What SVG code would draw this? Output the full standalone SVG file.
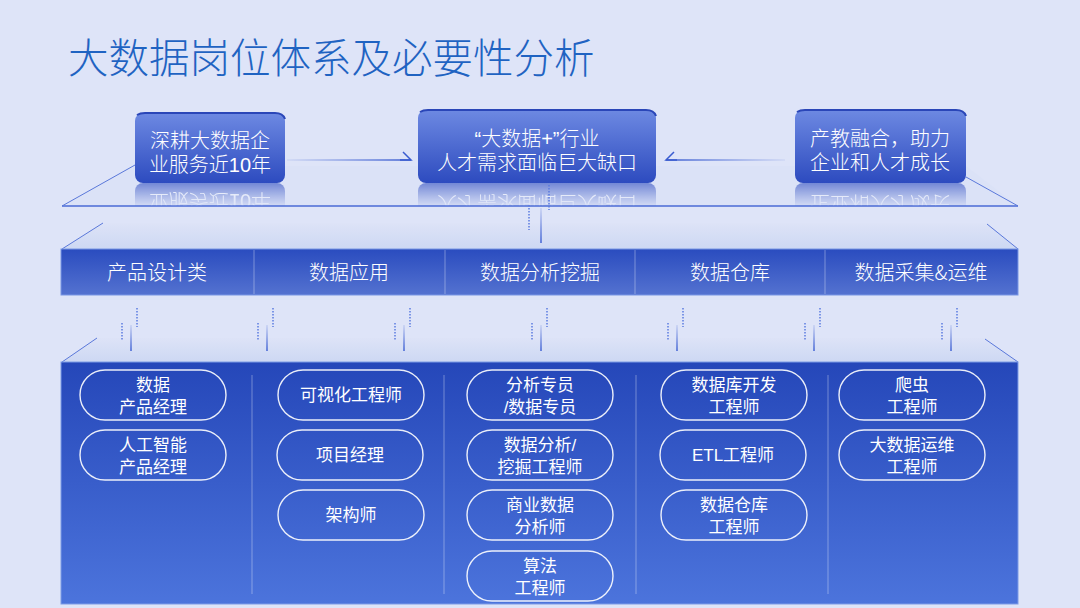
<svg xmlns="http://www.w3.org/2000/svg" width="1080" height="608" viewBox="0 0 1080 608">
<defs>
<linearGradient id="gBox" x1="0" y1="0" x2="0" y2="1"><stop offset="0" stop-color="#6d89e2"/><stop offset="1" stop-color="#2d4bbf"/></linearGradient>
<linearGradient id="gBand" x1="0" y1="0" x2="0" y2="1"><stop offset="0" stop-color="#2a4cbf"/><stop offset="1" stop-color="#5472d0"/></linearGradient>
<linearGradient id="gPanel" x1="0" y1="0" x2="0" y2="1"><stop offset="0" stop-color="#2547b9"/><stop offset="1" stop-color="#4c74dc"/></linearGradient>
<linearGradient id="gTop" x1="0" y1="0" x2="0" y2="1"><stop offset="0" stop-color="#dde3f7"/><stop offset="1" stop-color="#cdd8f3"/></linearGradient>
<linearGradient id="gRefl" x1="0" y1="0" x2="0" y2="1"><stop offset="0" stop-color="#ffffff" stop-opacity="0.6"/><stop offset="1" stop-color="#ffffff" stop-opacity="0.05"/></linearGradient>
<linearGradient id="gLineR" gradientUnits="userSpaceOnUse" x1="287" y1="0" x2="411" y2="0"><stop offset="0" stop-color="#4a6ad6" stop-opacity="0.1"/><stop offset="1" stop-color="#3a5cd0"/></linearGradient>
<linearGradient id="gLineL" gradientUnits="userSpaceOnUse" x1="785" y1="0" x2="666" y2="0"><stop offset="0" stop-color="#4a6ad6" stop-opacity="0.1"/><stop offset="1" stop-color="#3a5cd0"/></linearGradient>
<linearGradient id="gSolid" x1="0" y1="0" x2="0" y2="1"><stop offset="0" stop-color="#4a6ad6" stop-opacity="0.15"/><stop offset="1" stop-color="#4a6ad6"/></linearGradient>
<mask id="mRefl" maskUnits="userSpaceOnUse" x="0" y="183" width="1080" height="24">
<rect x="0" y="183" width="1080" height="23" fill="url(#gRefl)"/>
</mask>
<style>
.bg{fill:#dee4f8}
.title{font-family:"Noto Sans CJK SC","Liberation Sans",sans-serif;font-size:40.5px;font-weight:300;fill:#1f63c2}
.bt{font-family:"Liberation Sans","Noto Sans CJK SC",sans-serif;font-size:20px;font-weight:300;fill:#ffffff;text-anchor:middle}
.ct{font-family:"Noto Sans CJK SC","Liberation Sans",sans-serif;font-size:20px;font-weight:300;fill:#ffffff;text-anchor:middle}
.pt{font-family:"Liberation Sans","Noto Sans CJK SC",sans-serif;font-size:17px;fill:#ffffff;text-anchor:middle}
.pill{fill:none;stroke:#ffffff;stroke-width:1.4;stroke-opacity:0.9}
.edge{stroke:#4a6ad6;stroke-width:1.5;fill:none}
.diag{stroke:#5a78da;stroke-width:1;fill:none}
.div{stroke:#ffffff;stroke-opacity:0.35;stroke-width:1}
.dot{stroke:#5b7be0;stroke-width:1.5;stroke-dasharray:1.5 1.5;fill:none}
.sol{fill:url(#gSolid)}
</style>
</defs>
<rect class="bg" x="0" y="0" width="1080" height="608"/>
<text class="title" x="68" y="73">大数据岗位体系及必要性分析</text>

<!-- planes -->
<g id="planes">
<polygon points="62,206 133,166 966,166 1018,206" fill="#dbe2f7"/>
<line class="edge" x1="62" y1="206" x2="1018" y2="206"/>
<line class="diag" x1="62" y1="206" x2="135" y2="165"/>
<line class="diag" x1="966" y1="177" x2="1018" y2="206"/>
<polygon points="62,249 103,223 987,223 1018,249" fill="url(#gTop)"/>
<line class="diag" x1="62" y1="249" x2="103" y2="223"/>
<line class="diag" x1="987" y1="224" x2="1018" y2="249"/>
<polygon points="62,362 97,338 985,338 1018,362" fill="url(#gTop)"/>
<line class="diag" x1="62" y1="362" x2="97" y2="338"/>
<line class="diag" x1="985" y1="339" x2="1018" y2="362"/>
</g>

<!-- reflections -->
<g id="reflections" mask="url(#mRefl)">
<g transform="translate(0,366) scale(1,-1)">
<rect x="135" y="113" width="150" height="70" rx="8" fill="url(#gBox)"/>
<rect x="418" y="110" width="238" height="73" rx="8" fill="url(#gBox)"/>
<rect x="795" y="110" width="171" height="73" rx="8" fill="url(#gBox)"/>
<text class="bt" x="210" y="172">业服务近10年</text>
<text class="bt" x="537" y="170">人才需求面临巨大缺口</text>
<text class="bt" x="880" y="170">企业和人才成长</text>
</g>
</g>

<!-- connectors -->
<g id="connectors">
<line x1="287" y1="160" x2="411" y2="160" stroke="url(#gLineR)" stroke-width="1.5"/>
<polyline points="403,152 411,160 400,160" fill="none" stroke="#3a5cd0" stroke-width="1.5"/>
<line x1="785" y1="160" x2="666" y2="160" stroke="url(#gLineL)" stroke-width="1.5"/>
<polyline points="674,152 666,160 677,160" fill="none" stroke="#3a5cd0" stroke-width="1.5"/>
<line class="dot" x1="529" y1="205" x2="529" y2="230"/>
<line class="dot" x1="549" y1="185" x2="549" y2="210"/>
<rect class="sol" x="540.2" y="208" width="1.6" height="35"/>
<g>
<line class="dot" x1="122" y1="323" x2="122" y2="340"/><line class="dot" x1="137" y1="308" x2="137" y2="327"/><rect class="sol" x="130.2" y="325" width="1.6" height="26"/>
<line class="dot" x1="258" y1="323" x2="258" y2="340"/><line class="dot" x1="273" y1="308" x2="273" y2="327"/><rect class="sol" x="266.2" y="325" width="1.6" height="26"/>
<line class="dot" x1="395" y1="323" x2="395" y2="340"/><line class="dot" x1="410" y1="308" x2="410" y2="327"/><rect class="sol" x="403.2" y="325" width="1.6" height="26"/>
<line class="dot" x1="532" y1="323" x2="532" y2="340"/><line class="dot" x1="547" y1="308" x2="547" y2="327"/><rect class="sol" x="540.2" y="325" width="1.6" height="26"/>
<line class="dot" x1="668" y1="323" x2="668" y2="340"/><line class="dot" x1="683" y1="308" x2="683" y2="327"/><rect class="sol" x="676.2" y="325" width="1.6" height="26"/>
<line class="dot" x1="805" y1="323" x2="805" y2="340"/><line class="dot" x1="820" y1="308" x2="820" y2="327"/><rect class="sol" x="813.2" y="325" width="1.6" height="26"/>
<line class="dot" x1="942" y1="323" x2="942" y2="340"/><line class="dot" x1="957" y1="308" x2="957" y2="327"/><rect class="sol" x="950.2" y="325" width="1.6" height="26"/>
</g>
</g>

<!-- top boxes -->
<g id="box-experience">
<rect x="135" y="113" width="150" height="70" rx="8" fill="url(#gBox)"/>
<path d="M137,115 Q140,113 145,113 L275,113 Q283,113 285,119" fill="none" stroke="#2a46b8" stroke-width="2"/>
<text class="bt" x="210" y="148">深耕大数据企<tspan x="210" dy="24">业服务近10年</tspan></text>
</g>
<g id="box-demand">
<rect x="418" y="110" width="238" height="73" rx="8" fill="url(#gBox)"/>
<path d="M420,112 Q423,110 428,110 L646,110 Q654,110 656,116" fill="none" stroke="#2a46b8" stroke-width="2"/>
<text class="bt" x="537" y="146">“大数据+”行业<tspan x="537" dy="24">人才需求面临巨大缺口</tspan></text>
</g>
<g id="box-edu">
<rect x="795" y="110" width="171" height="73" rx="8" fill="url(#gBox)"/>
<path d="M797,112 Q800,110 805,110 L956,110 Q964,110 966,116" fill="none" stroke="#2a46b8" stroke-width="2"/>
<text class="bt" x="880" y="146">产教融合，助力<tspan x="880" dy="24">企业和人才成长</tspan></text>
</g>

<!-- category band -->
<g id="categories">
<rect x="61" y="249" width="957" height="46" fill="url(#gBand)" stroke="#7896e4" stroke-width="1"/>
<line class="div" x1="254" y1="250" x2="254" y2="294"/>
<line class="div" x1="445" y1="250" x2="445" y2="294"/>
<line class="div" x1="635" y1="250" x2="635" y2="294"/>
<line class="div" x1="825" y1="250" x2="825" y2="294"/>
<text class="ct" x="157" y="280">产品设计类</text>
<text class="ct" x="349" y="280">数据应用</text>
<text class="ct" x="540" y="280">数据分析挖掘</text>
<text class="ct" x="730" y="280">数据仓库</text>
<text class="ct" x="921" y="280">数据采集&amp;运维</text>
</g>

<!-- bottom panel -->
<g id="panel">
<rect x="61" y="362" width="957" height="242" fill="url(#gPanel)" stroke="#7d9be6" stroke-width="1"/>
<line class="div" x1="252" y1="375" x2="252" y2="594"/>
<line class="div" x1="444" y1="375" x2="444" y2="594"/>
<line class="div" x1="636" y1="375" x2="636" y2="594"/>
<line class="div" x1="828" y1="375" x2="828" y2="594"/>
</g>

<g id="pm-data"><rect class="pill" x="80" y="370" width="146" height="50" rx="25"/><text class="pt" x="153" y="391">数据<tspan x="153" dy="22">产品经理</tspan></text></g>
<g id="pm-ai"><rect class="pill" x="80" y="430" width="146" height="50" rx="25"/><text class="pt" x="153" y="451">人工智能<tspan x="153" dy="22">产品经理</tspan></text></g>

<g id="viz-eng"><rect class="pill" x="278" y="370" width="146" height="50" rx="25"/><text class="pt" x="351" y="401">可视化工程师</text></g>
<g id="pm"><rect class="pill" x="277" y="430" width="146" height="50" rx="25"/><text class="pt" x="350" y="461">项目经理</text></g>
<g id="architect"><rect class="pill" x="278" y="490" width="146" height="50" rx="25"/><text class="pt" x="351" y="521">架构师</text></g>

<g id="analyst"><rect class="pill" x="467" y="370" width="146" height="50" rx="25"/><text class="pt" x="540" y="391">分析专员<tspan x="540" dy="22">/数据专员</tspan></text></g>
<g id="mining-eng"><rect class="pill" x="467" y="430" width="146" height="50" rx="25"/><text class="pt" x="540" y="451">数据分析/<tspan x="540" dy="22">挖掘工程师</tspan></text></g>
<g id="bi-analyst"><rect class="pill" x="467" y="490" width="146" height="50" rx="25"/><text class="pt" x="540" y="511">商业数据<tspan x="540" dy="22">分析师</tspan></text></g>
<g id="algo-eng"><rect class="pill" x="467" y="551" width="146" height="50" rx="25"/><text class="pt" x="540" y="572">算法<tspan x="540" dy="22">工程师</tspan></text></g>

<g id="db-dev"><rect class="pill" x="661" y="370" width="146" height="50" rx="25"/><text class="pt" x="734" y="391">数据库开发<tspan x="734" dy="22">工程师</tspan></text></g>
<g id="etl-eng"><rect class="pill" x="660" y="430" width="146" height="50" rx="25"/><text class="pt" x="733" y="461">ETL工程师</text></g>
<g id="dw-eng"><rect class="pill" x="661" y="490" width="146" height="50" rx="25"/><text class="pt" x="734" y="511">数据仓库<tspan x="734" dy="22">工程师</tspan></text></g>

<g id="crawler-eng"><rect class="pill" x="839" y="370" width="146" height="50" rx="25"/><text class="pt" x="912" y="391">爬虫<tspan x="912" dy="22">工程师</tspan></text></g>
<g id="ops-eng"><rect class="pill" x="839" y="430" width="146" height="50" rx="25"/><text class="pt" x="912" y="451">大数据运维<tspan x="912" dy="22">工程师</tspan></text></g>
</svg>
